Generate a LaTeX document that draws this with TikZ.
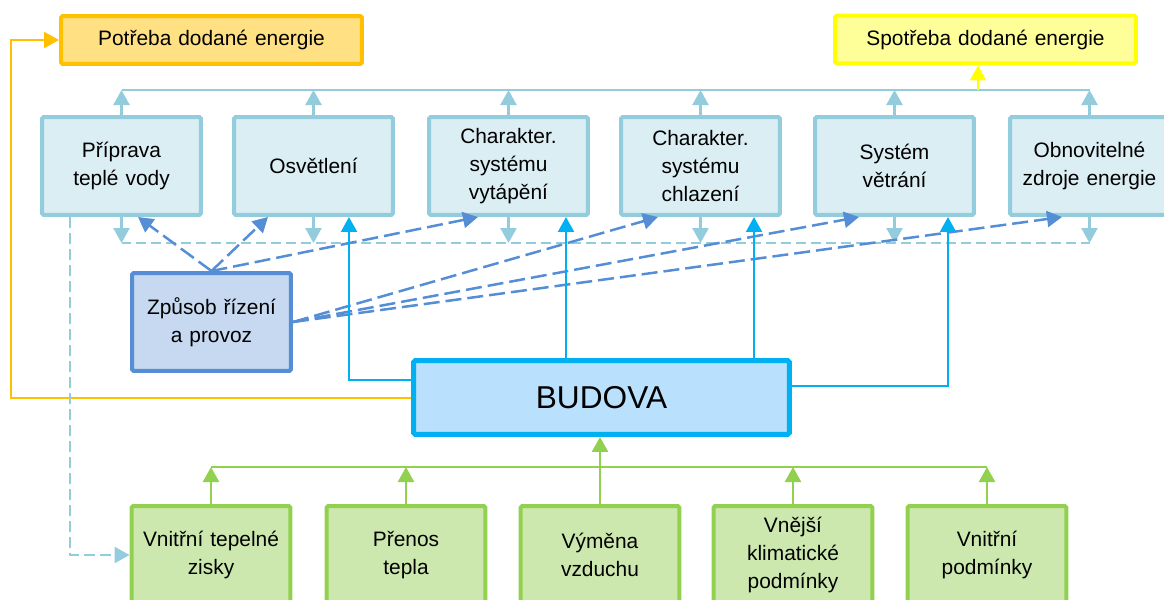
\documentclass[tikz,border=0pt]{standalone}
\usepackage{fontspec}
\setmainfont{Liberation Sans}
\usetikzlibrary{arrows.meta,calc}

\definecolor{aquaLine}{HTML}{93CDDD}
\definecolor{aquaFill}{HTML}{DBEEF4}
\definecolor{ctrlLine}{HTML}{558ED5}
\definecolor{ctrlFill}{HTML}{C6D9F1}
\definecolor{budLine}{HTML}{00B0F0}
\definecolor{budFill}{HTML}{B9E0FC}
\definecolor{envLine}{HTML}{92D050}
\definecolor{envFill}{HTML}{CCE8AE}
\definecolor{potLine}{HTML}{FFC000}
\definecolor{potFill}{HTML}{FFE083}
\definecolor{spotLine}{HTML}{FFFF00}
\definecolor{spotFill}{HTML}{FFFF99}

\begin{document}
\begin{tikzpicture}[x=0.02cm, y=-0.02cm, >={Triangle[length=0.3cm,width=0.32cm]},
  box/.style={draw, rounded corners=1pt, line width=0.08cm, minimum width=3.18cm,
    minimum height=1.96cm, text width=3.1cm, align=center, inner sep=0pt,
    font=\fontsize{11.9}{16}\selectfont},
  sysbox/.style={box, draw=aquaLine, fill=aquaFill},
  ctrlbox/.style={box, draw=ctrlLine, fill=ctrlFill},
  envbox/.style={box, draw=envLine, fill=envFill},
  enbox/.style={box, minimum width=6.02cm, minimum height=0.96cm, text width=6cm},
  budbox/.style={box, draw=budLine, fill=budFill, line width=0.1cm,
    minimum width=7.52cm, minimum height=1.48cm, text width=7.4cm,
    font=\fontsize{18}{20}\selectfont},
  sysarr/.style={->, draw=aquaLine, line width=0.05cm},
  gainarr/.style={sysarr, dash pattern=on 0.22cm off 0.1cm},
  ctrlarr/.style={->, draw=ctrlLine, line width=0.05cm, dash pattern=on 0.32cm off 0.12cm},
  budarr/.style={->, draw=budLine, line width=0.045cm},
  envarr/.style={->, draw=envLine, line width=0.05cm}
]

  \useasboundingbox (0,0) rectangle (1164,599);

  % --- 1. energie ---
  \node[enbox, draw=potLine, fill=potFill] (pot) at (211.5,40) {Potřeba dodané energie};
  \node[enbox, draw=spotLine, fill=spotFill] (spot) at (985.5,39.5) {Spotřeba dodané energie};

  % --- 2. systémy ---
  \node[sysbox] (b1) at (121.5,166) {Příprava\\teplé vody};
  \node[sysbox] (b2) at (313.5,166) {Osvětlení};
  \node[sysbox] (b3) at (508.5,166) {Charakter.\\systému\\vytápění};
  \node[sysbox] (b4) at (700.5,166) {Charakter.\\systému\\chlazení};
  \node[sysbox] (b5) at (894.5,166) {Systém\\větrání};
  \node[sysbox] (b6) at (1089.5,166) {Obnovitelné\\zdroje energie};

  \coordinate (bus) at (0,90);
  \coordinate (dbus) at (0,243);
  \foreach \i in {1,...,6} {
    \draw[sysarr] (b\i.north) -- (b\i.north |- bus);
    \draw[sysarr] (b\i.south) -- (b\i.south |- dbus);
  }
  \draw[aquaLine, line width=0.05cm] (b1.north |- bus) -- (b6.north |- bus);
  \draw[aquaLine, line width=0.05cm, dash pattern=on 0.2cm off 0.1cm]
    (b1.south |- dbus) -- (b6.south |- dbus);

  % spotřeba
  \coordinate (ys) at ($(spot.south)+(-7.5,0)$);
  \draw[->, draw=spotLine, line width=0.05cm] (ys |- bus) -- (ys);

  % --- 3. řízení ---
  \node[ctrlbox] (ctrl) at (211.5,322) {Způsob řízení\\a provoz};

  \draw[ctrlarr] (ctrl.north) -- ($(b1.south)+(16.5,0)$);
  \draw[ctrlarr] (ctrl.north) -- ($(b2.south)+(-45.5,0)$);
  \draw[ctrlarr] (ctrl.north) -- ($(b3.south)+(-30.5,0)$);
  \draw[ctrlarr] (ctrl.east) -- ($(b4.south)+(-42.5,0)$);
  \draw[ctrlarr] (ctrl.east) -- ($(b5.south)+(-35.5,0)$);
  \draw[ctrlarr] (ctrl.east) -- ($(b6.south)+(-27.5,0)$);

  % --- 4. budova ---
  \node[budbox] (bud) at (601.5,397.5) {BUDOVA};

  \coordinate (w2) at ($(bud.west)+(0,-17.5)$);
  \draw[budarr] (w2) -| ($(b2.south)+(35.5,0)$);
  \coordinate (n3) at ($(bud.north)+(-35.5,0)$);
  \draw[budarr] (n3) -- (n3 |- b3.south);
  \coordinate (n4) at ($(bud.north)+(152.5,0)$);
  \draw[budarr] (n4) -- (n4 |- b4.south);
  \coordinate (e5) at ($(bud.east)+(0,-11.5)$);
  \draw[budarr] (e5) -| ($(b5.south)+(53.5,0)$);

  % potřeba
  \coordinate (ow) at ($(bud.west)+(0,0.5)$);
  \coordinate (oc) at ($(pot.west)+(-48,0)$);
  \draw[->, draw=potLine, line width=0.045cm] (ow) -| (oc) -- (pot.west);

  % --- 5. vstupy ---
  \node[envbox] (g1) at (211,555) {Vnitřní tepelné\\zisky};
  \node[envbox] (g2) at (406,555) {Přenos\\tepla};
  \node[envbox] (g3) at (600,555) {Výměna\\vzduchu};
  \node[envbox] (g4) at (793,555) {Vnější\\klimatické\\podmínky};
  \node[envbox] (g5) at (987,555) {Vnitřní\\podmínky};

  \coordinate (gbus) at (0,467);
  \foreach \i in {1,2,4,5}
    \draw[envarr] (g\i.north) -- (g\i.north |- gbus);
  \draw[envLine, line width=0.05cm] (g1.north |- gbus) -- (g5.north |- gbus);
  \draw[envarr] (g3.north) -- (g3.north |- bud.south);

  % tepelné zisky
  \coordinate (d0) at ($(b1.south west)+(30,0)$);
  \draw[gainarr] (d0) |- (g1.west);

\end{tikzpicture}
\end{document}
